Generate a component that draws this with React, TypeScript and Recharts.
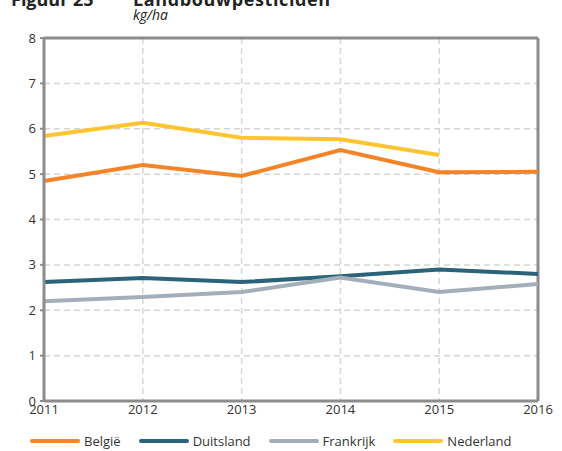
import React from "react";
import {
  LineChart,
  Line,
  XAxis,
  YAxis,
  CartesianGrid,
  ReferenceLine,
} from "recharts";

const years = [2011, 2012, 2013, 2014, 2015, 2016];
const belgie = [4.85, 5.2, 4.96, 5.53, 5.04, 5.05];
const duitsland = [2.62, 2.71, 2.62, 2.75, 2.9, 2.8];
const frankrijk = [2.2, 2.29, 2.4, 2.72, 2.4, 2.58];
const nederland = [5.84, 6.13, 5.8, 5.77, 5.42, null];
const yTicks = [0, 1, 2, 3, 4, 5, 6, 7, 8];

const series = [
  { key: "belgie", name: "België", color: "#F58426" },
  { key: "duitsland", name: "Duitsland", color: "#2B6479" },
  { key: "frankrijk", name: "Frankrijk", color: "#A4AEBB" },
  { key: "nederland", name: "Nederland", color: "#FFC530" },
];

const data = years.map((year, i) => ({
  year,
  belgie: belgie[i],
  duitsland: duitsland[i],
  frankrijk: frankrijk[i],
  nederland: nederland[i],
}));

const FONT = "'Open Sans', sans-serif";
const AXIS = "#8c8c8c";

export default function App() {
  return (
    <div
      style={{
        position: "fixed",
        left: 0,
        top: 0,
        width: 562,
        height: 451,
        background: "#fff",
        overflow: "hidden",
        fontFamily: FONT,
      }}
    >
      <div
        style={{
          position: "absolute",
          left: 11,
          top: -13,
          fontSize: 18,
          lineHeight: "24px",
          fontWeight: "bold",
          color: "#222",
          whiteSpace: "nowrap",
        }}
      >
        Figuur 25
        <span style={{ position: "absolute", left: 122, letterSpacing: 0.6 }}>
          Landbouwpesticiden
        </span>
      </div>
      <div
        style={{
          position: "absolute",
          left: 133,
          top: 5,
          fontSize: 14,
          lineHeight: "19px",
          fontStyle: "italic",
          color: "#222",
        }}
      >
        kg/ha
      </div>

      <LineChart
        width={562}
        height={451}
        data={data}
        margin={{ top: 38, right: 24, left: 14, bottom: 0 }}
      >
        <CartesianGrid stroke="#d6d6d6" strokeDasharray="6 4" strokeWidth={1.5} />
        <XAxis
          dataKey="year"
          type="number"
          domain={[2011, 2016]}
          ticks={years}
          height={50}
          tickLine={false}
          tickSize={0}
          tickMargin={4}
          axisLine={{ stroke: AXIS, strokeWidth: 3 }}
          tick={{ fontSize: 13, fill: "#333", fontFamily: FONT }}
        />
        <YAxis
          domain={[0, 8]}
          ticks={yTicks}
          width={30}
          tickSize={4}
          tickMargin={4}
          tickLine={{ stroke: AXIS, strokeWidth: 2 }}
          axisLine={{ stroke: AXIS, strokeWidth: 3 }}
          tick={{ fontSize: 13, fill: "#333", fontFamily: FONT }}
        />
        <ReferenceLine y={8} stroke={AXIS} strokeWidth={3} />
        <ReferenceLine x={2016} stroke={AXIS} strokeWidth={3} />
        {series.map((s) => (
          <Line
            key={s.key}
            dataKey={s.key}
            name={s.name}
            stroke={s.color}
            strokeWidth={4}
            dot={false}
            activeDot={false}
            isAnimationActive={false}
          />
        ))}
      </LineChart>

      <div
        style={{
          position: "absolute",
          top: 432,
          left: 30,
          height: 18,
          display: "flex",
          alignItems: "center",
          fontSize: 13,
          lineHeight: "18px",
          color: "#333",
        }}
      >
        {series.map((s) => (
          <div
            key={s.key}
            style={{ display: "flex", alignItems: "center", marginRight: 18 }}
          >
            <div
              style={{
                width: 50,
                height: 4,
                borderRadius: 2,
                background: s.color,
                marginRight: 4,
              }}
            />
            <span>{s.name}</span>
          </div>
        ))}
      </div>
    </div>
  );
}
